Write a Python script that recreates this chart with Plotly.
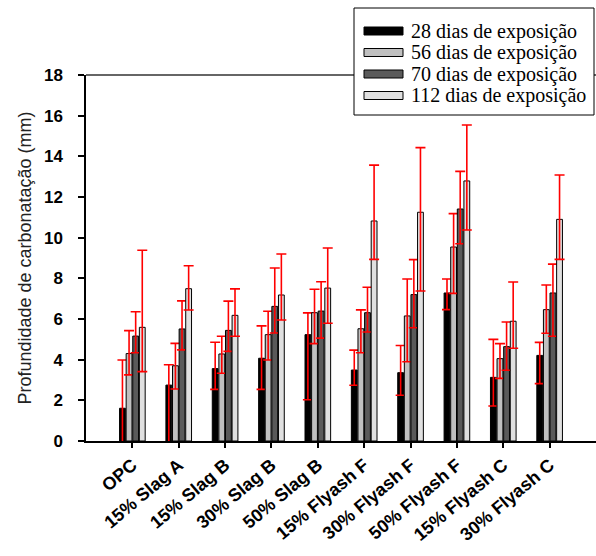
import plotly.graph_objects as go

categories = ["OPC", "15% Slag A", "15% Slag B", "30% Slag B", "50% Slag B",
              "15% Flyash F", "30% Flyash F", "50% Flyash F", "15% Flyash C", "30% Flyash C"]

series_names = ["28 dias de exposição", "56 dias de exposição",
                "70 dias de exposição", "112 dias de exposição"]

d28 = [1.61, 2.75, 3.56, 4.07, 5.23, 3.49, 3.36, 7.28, 3.13, 4.21]
d56 = [4.30, 3.70, 4.28, 5.23, 6.31, 5.52, 6.15, 9.54, 4.05, 6.46]
d70 = [5.16, 5.51, 5.44, 6.62, 6.39, 6.31, 7.20, 11.41, 4.64, 7.28]
d112 = [5.59, 7.49, 6.18, 7.18, 7.52, 10.82, 11.25, 12.79, 5.89, 10.90]

e28_plus = [2.37, 1.00, 1.30, 1.59, 1.07, 0.98, 1.34, 0.69, 1.87, 0.64]
e28_minus = [2.60, 3.00, 1.02, 1.53, 3.20, 0.75, 1.11, 0.82, 1.41, 1.39]
e56_plus = [1.13, 1.10, 0.87, 1.15, 1.15, 0.93, 1.82, 1.64, 0.74, 1.21]
e56_minus = [1.05, 1.14, 0.95, 1.25, 1.52, 1.18, 2.25, 2.28, 0.97, 1.16]
e70_plus = [1.20, 1.38, 1.44, 1.89, 1.44, 1.25, 1.72, 1.85, 1.21, 1.42]
e70_minus = [0.82, 1.03, 1.03, 1.31, 1.33, 0.95, 1.63, 1.71, 1.16, 2.13]
e112_plus = [3.79, 1.13, 1.30, 2.02, 1.97, 2.75, 3.18, 2.75, 1.93, 2.18]
e112_minus = [2.18, 1.05, 1.03, 1.23, 1.73, 1.89, 3.87, 2.41, 1.33, 1.97]

y_ticks = [0, 2, 4, 6, 8, 10, 12, 14, 16, 18]

values = [d28, d56, d70, d112]
plus = [e28_plus, e56_plus, e70_plus, e112_plus]
minus = [e28_minus, e56_minus, e70_minus, e112_minus]
colors = ["#000000", "#c0c0c0", "#5a5a5a", "#e0e0e0"]

W, H = 596, 556
ML, MR, MT, MB = 86, 0, 75, 115
PW, PH = W - ML - MR, H - MT - MB


def px_x(p):
    return (p - ML) / PW


def px_y(p):
    return (H - MB - p) / PH


fig = go.Figure()
for name, v, ep, em, c in zip(series_names, values, plus, minus, colors):
    fig.add_trace(go.Bar(
        x=categories, y=v, name=name,
        marker=dict(color=c, line=dict(color="#000000", width=1)),
        error_y=dict(type="data", symmetric=False, array=ep, arrayminus=em,
                     color="#ff0000", thickness=1.6, width=5),
        showlegend=False,
    ))

shapes = [
    dict(type="line", xref="paper", yref="paper", x0=0, x1=1, y0=1, y1=1,
         line=dict(color="#333333", width=1.5), layer="above"),
    dict(type="rect", xref="paper", yref="paper",
         x0=px_x(354), x1=px_x(594), y0=px_y(115), y1=px_y(8),
         line=dict(color="#000000", width=1), fillcolor="#ffffff", layer="above"),
]
annotations = []
row_y = [31, 52.5, 74, 95.5]
for name, c, ry in zip(series_names, colors, row_y):
    shapes.append(dict(type="rect", xref="paper", yref="paper",
                       x0=px_x(364), x1=px_x(403), y0=px_y(ry + 4), y1=px_y(ry - 4),
                       line=dict(color="#000000", width=1), fillcolor=c, layer="above"))
    annotations.append(dict(xref="paper", yref="paper", x=px_x(409), y=px_y(ry),
                            xanchor="left", yanchor="middle", showarrow=False,
                            text=name,
                            font=dict(family="Liberation Serif, Times New Roman, serif",
                                      size=20, color="#000000")))

fig.update_layout(
    width=W, height=H,
    margin=dict(l=ML, r=MR, t=MT, b=MB),
    barmode="group", bargap=0.43, bargroupgap=0.12,
    plot_bgcolor="#ffffff", paper_bgcolor="#ffffff",
    shapes=shapes, annotations=annotations,
    xaxis=dict(
        type="category", range=[-1, 10],
        showline=True, linecolor="#000000", linewidth=1.5,
        ticks="outside", ticklen=5, tickcolor="#000000", tickwidth=1.5,
        tickangle=-40,
        tickfont=dict(family="Liberation Sans, Arial, sans-serif", size=18,
                      color="#000000", weight="bold"),
        showgrid=False, zeroline=False,
    ),
    yaxis=dict(
        range=[0, 18], tickvals=y_ticks,
        showline=True, linecolor="#000000", linewidth=1.5,
        ticks="outside", ticklen=6, tickcolor="#000000", tickwidth=1.5,
        ticklabelstandoff=12,
        tickfont=dict(family="Liberation Sans, Arial, sans-serif", size=17,
                      color="#000000", weight="bold"),
        title=dict(text="Profundidade de carbonatação (mm)", standoff=8,
                   font=dict(family="Liberation Sans, Arial, sans-serif", size=18,
                             color="#222222")),
        showgrid=False, zeroline=False,
    ),
)

fig.write_html("out.html")
